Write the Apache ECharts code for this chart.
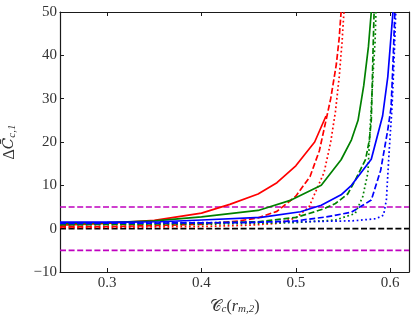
<!DOCTYPE html>
<html><head><meta charset="utf-8">
<script src="https://cdn.jsdelivr.net/npm/echarts@6/dist/echarts.min.js"></script>
<style>html,body{margin:0;padding:0;background:#fff}#c{width:416px;height:318px}</style>
</head><body><div id="c"></div>
<script>
// ---- data ----
const xTicks = [0.3, 0.4, 0.5, 0.6];
const yTicks = [-10, 0, 10, 20, 30, 40, 50];

const redSolidX   = [0.25, 0.30, 0.35, 0.40, 0.43, 0.46, 0.48, 0.50, 0.52, 0.532];
const redSolidY   = [0.8, 1.2, 1.9, 3.6, 5.6, 8.0, 10.6, 14.5, 20.0, 26.0];
const redDashX    = [0.25, 0.30, 0.35, 0.40, 0.44, 0.46, 0.48, 0.50, 0.515, 0.525, 0.532, 0.537, 0.543, 0.546, 0.548];
const redDashY    = [0.4, 0.5, 0.7, 1.0, 1.8, 2.5, 4.0, 7.5, 12.0, 18.0, 25.0, 30.0, 38.0, 44.0, 50.0];
const redDotX     = [0.25, 0.30, 0.40, 0.45, 0.48, 0.50, 0.514, 0.524, 0.530, 0.537, 0.542, 0.546, 0.549, 0.551];
const redDotY     = [0.3, 0.3, 0.5, 0.8, 1.2, 2.5, 5.0, 10.0, 13.0, 20.0, 27.0, 35.0, 43.0, 50.0];

const greenSolidX = [0.25, 0.30, 0.35, 0.40, 0.46, 0.495, 0.527, 0.548, 0.559, 0.566, 0.572, 0.577, 0.580];
const greenSolidY = [1.2, 1.4, 1.8, 2.7, 4.2, 6.6, 10.0, 15.9, 20.5, 25.0, 33.0, 42.0, 50.0];
const greenDashX  = [0.25, 0.35, 0.40, 0.46, 0.50, 0.514, 0.530, 0.542, 0.555, 0.563, 0.574, 0.578, 0.580, 0.581, 0.582, 0.583];
const greenDashY  = [0.9, 1.1, 1.3, 1.6, 2.6, 3.5, 4.6, 5.8, 8.0, 11.2, 16.0, 20.5, 25.0, 33.0, 42.0, 50.0];
const greenDotX   = [0.25, 0.40, 0.50, 0.542, 0.563, 0.571, 0.5765, 0.578, 0.580, 0.582, 0.584, 0.585];
const greenDotY   = [0.9, 1.0, 1.4, 2.0, 3.5, 7.4, 13.0, 20.0, 28.0, 36.0, 43.0, 50.0];

const blueSolidX  = [0.25, 0.30, 0.356, 0.40, 0.463, 0.505, 0.527, 0.548, 0.559, 0.580, 0.592, 0.5975, 0.603];
const blueSolidY  = [1.5, 1.5, 1.6, 2.0, 2.6, 3.9, 5.4, 7.8, 10.0, 16.0, 26.0, 35.0, 50.0];
const blueDashX   = [0.25, 0.35, 0.45, 0.50, 0.532, 0.559, 0.580, 0.590, 0.5975, 0.601, 0.603, 0.605];
const blueDashY   = [1.2, 1.3, 1.4, 1.8, 2.7, 3.8, 6.6, 13.5, 22.8, 28.0, 38.0, 50.0];
const blueDotX    = [0.25, 0.40, 0.50, 0.56, 0.585, 0.593, 0.596, 0.599, 0.602, 0.604, 0.606];
const blueDotY    = [1.3, 1.4, 1.6, 1.8, 2.3, 3.1, 6.6, 18.0, 28.0, 38.0, 50.0];

const refLevels   = [5, 0, -5];
const xRange = [0.25, 0.62];
const yRange = [-10, 50];
// ---------------------------------------

const zip = (xs, ys) => xs.map((x, i) => [x, ys[i]]);
const FONT = 'Liberation Serif';
const AX = '#1a1a1a';
const TXT = '#333';
const LW = 1.7;

function curve(xs, ys, color, type) {
  let lt = 'solid';
  if (type === 'dashed') lt = [6, 2.6];
  if (type === 'dotted') lt = [1.7, 2.6];
  return {
    type: 'line', data: zip(xs, ys), showSymbol: false, symbol: 'none',
    smooth: false, clip: true, z: 3,
    lineStyle: { color: color, width: LW, type: lt, cap: 'butt' }
  };
}
function hline(y, color) {
  return {
    type: 'line', data: [[xRange[0], y], [xRange[1], y]], showSymbol: false, symbol: 'none',
    z: 2, lineStyle: { color: color, width: LW, type: [6, 2.6] }
  };
}

const series = [
  hline(refLevels[0], '#bf00bf'),
  hline(refLevels[1], '#000000'),
  hline(refLevels[2], '#bf00bf'),
  curve(redSolidX, redSolidY, '#ff0000', 'solid'),
  curve(redDashX, redDashY, '#ff0000', 'dashed'),
  curve(redDotX, redDotY, '#ff0000', 'dotted'),
  curve(greenSolidX, greenSolidY, '#008000', 'solid'),
  curve(greenDashX, greenDashY, '#008000', 'dashed'),
  curve(greenDotX, greenDotY, '#008000', 'dotted'),
  curve(blueSolidX, blueSolidY, '#0000ff', 'solid'),
  curve(blueDashX, blueDashY, '#0000ff', 'dashed'),
  curve(blueDotX, blueDotY, '#0000ff', 'dotted')
];

const baseX = {
  type: 'value', min: xRange[0], max: xRange[1],
  splitLine: { show: false },
  axisLine: { show: true, onZero: false, lineStyle: { color: AX, width: 1.2 } },
  axisTick: { show: true, inside: true, length: 4, lineStyle: { color: AX, width: 1 },
    customValues: xTicks },
  axisLabel: { customValues: xTicks, fontFamily: FONT, fontSize: 15, color: TXT, margin: 4,
    formatter: v => v.toFixed(1) }
};
const baseY = {
  type: 'value', min: yRange[0], max: yRange[1], interval: 10,
  splitLine: { show: false },
  axisLine: { show: true, onZero: false, lineStyle: { color: AX, width: 1.2 } },
  axisTick: { show: true, inside: true, length: 4, lineStyle: { color: AX, width: 1 } },
  axisLabel: { fontFamily: FONT, fontSize: 15, color: TXT, margin: 3,
    formatter: v => (v < 0 ? '\u2212' + Math.abs(v) : String(v)) }
};

const option = {
  animation: false,
  backgroundColor: '#fff',
  grid: { left: 60, top: 12, right: 7, bottom: 46, containLabel: false, outerBoundsMode: 'none' },
  xAxis: [
    Object.assign({}, baseX, {
      position: 'bottom',
      name: '{c|\uD835\uDC9E}{s|c}{n|(}{i|r}{s|m,2}{n|)}',
      nameLocation: 'middle', nameGap: 26,
      nameTextStyle: {
        rich: {
          c: { fontFamily: FONT, fontSize: 16, color: TXT },
          i: { fontFamily: FONT, fontStyle: 'italic', fontSize: 16, color: TXT },
          n: { fontFamily: FONT, fontSize: 16, color: TXT },
          s: { fontFamily: FONT, fontStyle: 'italic', fontSize: 11, color: TXT, verticalAlign: 'bottom', padding: [6, 0, 0, 0] }
        }
      }
    }),
    Object.assign({}, baseX, { position: 'top', axisLabel: { show: false } })
  ],
  yAxis: [
    Object.assign({}, baseY, {
      position: 'left',
      name: '{n|\u0394}{i|C\u0304}{s|c,1}',
      nameLocation: 'middle', nameGap: 42, nameRotate: 90,
      nameTextStyle: {
        rich: {
          n: { fontFamily: FONT, fontSize: 16, color: TXT },
          i: { fontFamily: 'DejaVu Serif', fontStyle: 'italic', fontSize: 15, color: TXT },
          s: { fontFamily: FONT, fontStyle: 'italic', fontSize: 11, color: TXT, verticalAlign: 'bottom', padding: [6, 0, 0, 0] }
        }
      }
    }),
    Object.assign({}, baseY, { position: 'right', axisLabel: { show: false } })
  ],
  series: series
};

const chart = echarts.init(document.getElementById('c'), null, { renderer: 'canvas' });
chart.setOption(option);
</script>
</body></html>
